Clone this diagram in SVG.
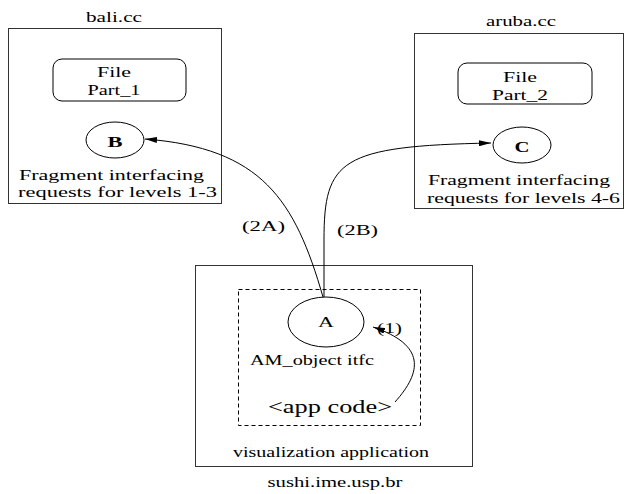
<svg xmlns="http://www.w3.org/2000/svg" width="625" height="494" viewBox="0 0 625 494">
  <defs>
    <marker id="arrow" markerUnits="userSpaceOnUse" viewBox="0 0 12 6" refX="12" refY="3" markerWidth="12" markerHeight="6" orient="auto">
      <path d="M0,0 L12,3 L0,6 z" fill="#000"/>
    </marker>
  </defs>
  <style>
    text { font-family: "Liberation Serif", "Times New Roman", serif; font-size: 14px; fill: #000; }
    .box { fill: none; stroke: #333; stroke-width: 1; }
    .dash { fill: none; stroke: #000; stroke-width: 1; stroke-dasharray: 4 3; }
    .node { fill: #fff; stroke: #000; stroke-width: 1; }
    .mid { text-anchor: middle; }
    .big { font-size: 15px; }
    .bold { font-weight: bold; }
    .code { font-size: 18px; }
    .link { fill: none; stroke: #000; stroke-width: 1; marker-end: url(#arrow); }
  </style>
  <rect width="625" height="494" fill="#fff"/>

  <!-- host bali.cc -->
  <g id="bali">
    <text x="114" y="22" class="mid" textLength="56" lengthAdjust="spacingAndGlyphs">bali.cc</text>
    <rect class="box" x="8.5" y="28.5" width="213" height="175"/>
    <text x="19" y="180" textLength="185" lengthAdjust="spacingAndGlyphs">Fragment interfacing</text>
    <text x="18" y="197" textLength="199" lengthAdjust="spacingAndGlyphs">requests for levels 1-3</text>
  </g>
  <g id="file1">
    <rect class="node" x="53" y="59" width="133" height="42" rx="9" ry="9"/>
    <text x="114" y="77" class="mid" textLength="34" lengthAdjust="spacingAndGlyphs">File</text>
    <text x="114" y="95" class="mid" textLength="53" lengthAdjust="spacingAndGlyphs">Part_1</text>
  </g>
  <g id="nodeB">
    <ellipse class="node" cx="115" cy="140" rx="29" ry="18"/>
    <text x="115" y="147" class="mid big bold" textLength="15" lengthAdjust="spacingAndGlyphs">B</text>
  </g>

  <!-- host aruba.cc -->
  <g id="aruba">
    <text x="521" y="26" class="mid" textLength="70" lengthAdjust="spacingAndGlyphs">aruba.cc</text>
    <rect class="box" x="414.5" y="33.5" width="209" height="175"/>
    <text x="428" y="185" textLength="182" lengthAdjust="spacingAndGlyphs">Fragment interfacing</text>
    <text x="427" y="203" textLength="193" lengthAdjust="spacingAndGlyphs">requests for levels 4-6</text>
  </g>
  <g id="file2">
    <rect class="node" x="458" y="63" width="134" height="41" rx="9" ry="9"/>
    <text x="520" y="82" class="mid" textLength="34" lengthAdjust="spacingAndGlyphs">File</text>
    <text x="520" y="100" class="mid" textLength="56" lengthAdjust="spacingAndGlyphs">Part_2</text>
  </g>
  <g id="nodeC">
    <ellipse class="node" cx="522" cy="145" rx="29" ry="18"/>
    <text x="522" y="152" class="mid big bold" textLength="15" lengthAdjust="spacingAndGlyphs">C</text>
  </g>

  <!-- host sushi.ime.usp.br -->
  <g id="sushi">
    <rect class="box" x="195.5" y="265.5" width="277" height="201"/>
    <text x="331" y="457" class="mid" textLength="196" lengthAdjust="spacingAndGlyphs">visualization application</text>
    <text x="335" y="487" class="mid" textLength="135" lengthAdjust="spacingAndGlyphs">sushi.ime.usp.br</text>
  </g>
  <g id="itfc">
    <rect class="dash" x="238.5" y="289.5" width="182" height="136"/>
    <text x="312" y="365" class="mid" textLength="124" lengthAdjust="spacingAndGlyphs">AM_object itfc</text>
    <text x="330" y="413" class="mid code" textLength="124" lengthAdjust="spacingAndGlyphs">&lt;app code&gt;</text>
  </g>
  <g id="nodeA">
    <ellipse class="node" cx="326" cy="322" rx="38" ry="25"/>
    <text x="326" y="327" class="mid big" textLength="16" lengthAdjust="spacingAndGlyphs">A</text>
  </g>

  <!-- requests -->
  <g id="connectors">
    <path class="link" d="M323,297 C295,200 262,148 145,139"/>
    <path class="link" d="M324,297 L324,240 C324,160 340,146 491,143"/>
    <path class="link" d="M395,402 C422,372 426,345 373,327"/>
    <text x="242" y="231" textLength="43" lengthAdjust="spacingAndGlyphs">(2A)</text>
    <text x="337" y="235" textLength="41" lengthAdjust="spacingAndGlyphs">(2B)</text>
    <text x="377" y="333" textLength="25" lengthAdjust="spacingAndGlyphs">(1)</text>
  </g>
</svg>
